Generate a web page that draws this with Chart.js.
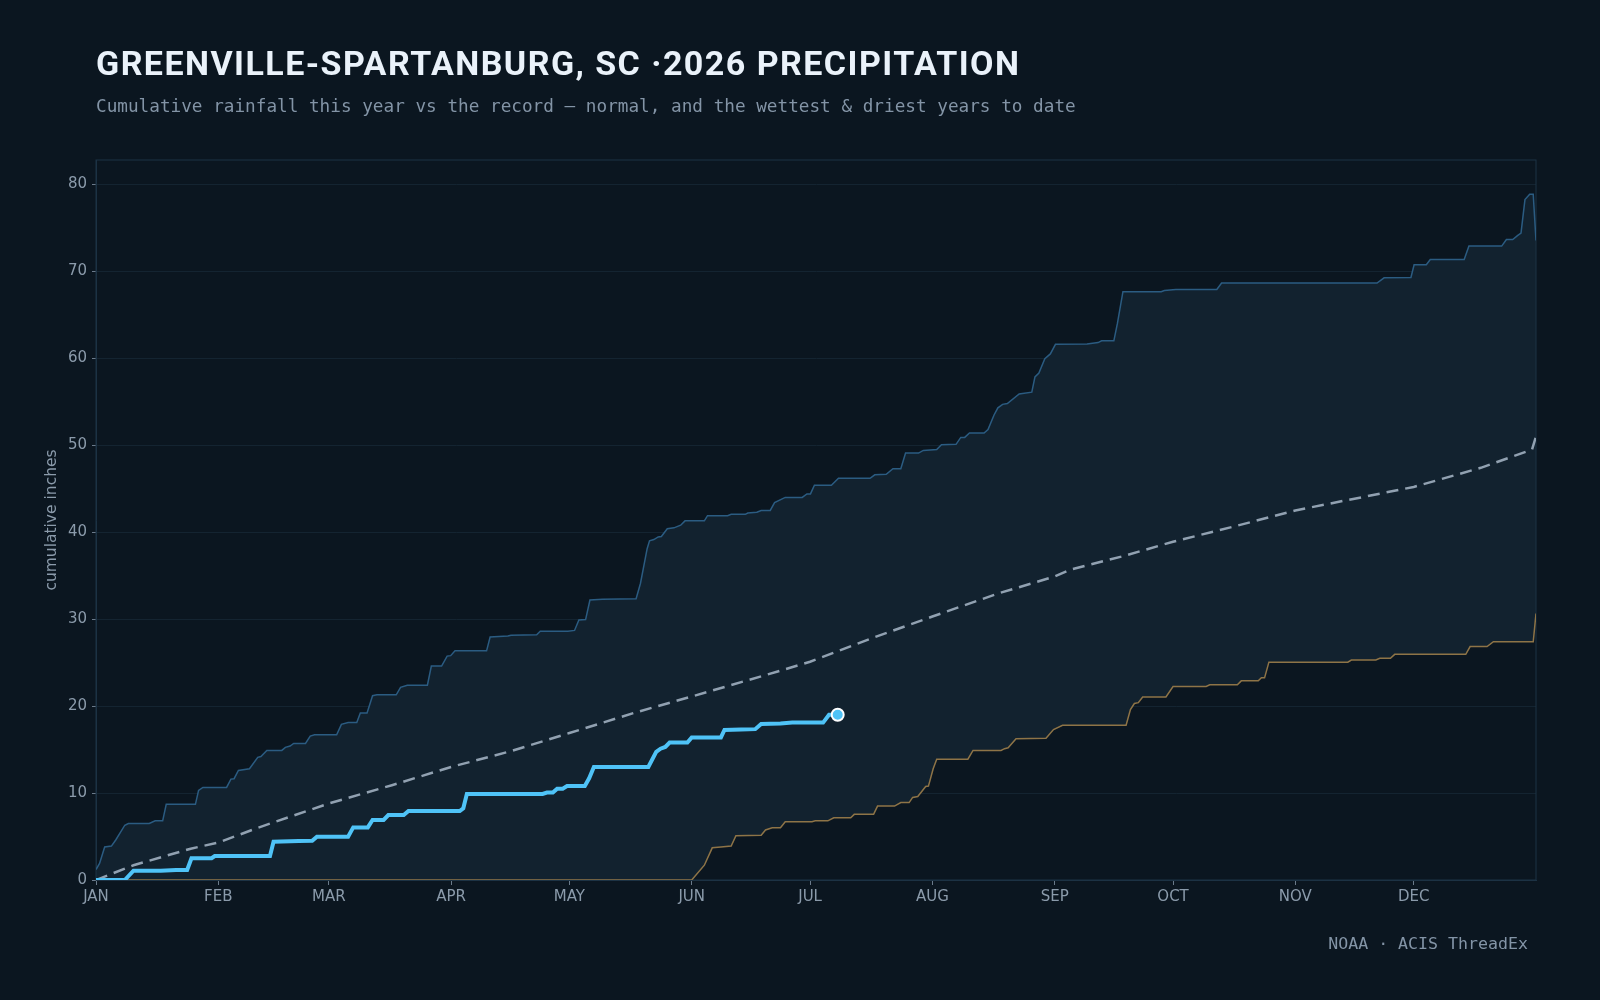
<!DOCTYPE html>
<html lang="en">
<head>
<meta charset="UTF-8">
<title>Greenville-Spartanburg 2026 precipitation</title>
<script src="https://cdn.jsdelivr.net/npm/chart.js"></script>
<style>
  html, body { margin: 0; padding: 0; background: #0b1620; }
  body { width: 1600px; height: 1000px; position: relative; overflow: hidden; }
  #chart { position: absolute; left: 0; top: 0; }
  h1 { position: absolute; left: 96px; top: 46px; margin: 0; font: 700 34px/34px Roboto, sans-serif; letter-spacing: 1.45px; color: #eaf2fa; white-space: nowrap; }
  .sub { position: absolute; left: 96px; top: 97px; font: 17.7px/18px "DejaVu Sans Mono", monospace; color: #8394a6; white-space: nowrap; }
  .src { position: absolute; right: 72px; top: 935px; font: 16.6px/18px "DejaVu Sans Mono", monospace; color: #8394a6; white-space: nowrap; }
</style>
</head>
<body>
  <canvas id="chart" width="1600" height="1000"></canvas>
  <h1>GREENVILLE-SPARTANBURG, SC ·2026 PRECIPITATION</h1>
  <div class="sub">Cumulative rainfall this year vs the record — normal, and the wettest &amp; driest years to date</div>
  <div class="src">NOAA · ACIS ThreadEx</div>

  <script>
    // x = day of year (0 = Jan 1), y = cumulative inches
    const monthDays = [0, 31, 59, 90, 120, 151, 181, 212, 243, 273, 304, 334];
    const monthLabels = ["JAN", "FEB", "MAR", "APR", "MAY", "JUN", "JUL", "AUG", "SEP", "OCT", "NOV", "DEC"];
    const yTicks = [0, 10, 20, 30, 40, 50, 60, 70, 80];

    // this year (2026), to date
    const curDays = [0, 7.3, 9.5, 16.4, 20.3, 23.1, 24.2, 29.3, 30.1, 44.1, 45, 51.4, 54.8, 56, 63.9, 65.2, 68.9, 70.1, 72.9, 74.1,
      78, 79.2, 92.2, 93.1, 94, 113.2, 114.3, 115.8, 116.9, 118.3, 119.4, 123.9, 125, 126.2, 140, 142, 143.1, 144.3, 145.4, 149.9,
      151, 158.4, 159.3, 163.5, 167.1, 168.6, 173.5, 176.5, 184.3, 185.8, 188];
    const curVals = [0, 0, 1.07, 1.07, 1.15, 1.15, 2.5, 2.5, 2.75, 2.75, 4.4, 4.48, 4.5, 4.98, 4.98, 6.05, 6.05, 6.9, 6.9, 7.47,
      7.47, 7.93, 7.93, 8.25, 9.9, 9.9, 10.05, 10.05, 10.5, 10.5, 10.8, 10.8, 11.7, 13.0, 13.0, 14.75, 15.1, 15.3, 15.8, 15.8,
      16.4, 16.4, 17.25, 17.3, 17.35, 17.95, 18.0, 18.1, 18.1, 19.0, 19.0];

    // normal
    const normDays = [0, 9.5, 24, 31, 41, 59, 75, 90, 105, 120, 137, 151, 173, 181, 196, 212, 229, 243, 247, 260, 273, 288, 304, 334, 351, 364, 365];
    const normVals = [0, 1.7, 3.6, 4.3, 6.0, 8.8, 10.9, 13.0, 14.8, 16.9, 19.3, 21.1, 24.0, 25.1, 27.7, 30.3, 33.0, 34.9, 35.7, 37.2, 38.9, 40.6, 42.5, 45.2, 47.4, 49.5, 51.0];

    // wettest year to date
    const wetDays = [0, 0.9, 2.2, 3.9, 5, 7.3, 8.2, 13.5, 15, 16.9, 17.8, 25.2, 26, 27.1, 33.1, 34.2, 35, 36.1, 38.9, 41,
      41.8, 43.3, 47.1, 48, 49.2, 50.1, 53.1, 54.3, 55.4, 61, 62.2, 63.9, 66.1, 67, 68.7, 70.1, 71.2, 76.1, 77.2, 78.9,
      84, 85, 87.6, 89, 89.9, 91, 99, 99.9, 104.4, 105.2, 111.7, 112.6, 119.6, 121.3, 122.4, 124.1, 125.2, 128.4, 136.9, 138,
      139.7, 140.3, 141.4, 142.5, 143.3, 144.8, 146.5, 148.2, 149.3, 154.2, 155, 160.1, 161, 164.6, 165.2, 167.5, 168.6, 170.9, 172, 174.7,
      179, 180.2, 181.1, 182.1, 186.4, 188.2, 196.2, 197.4, 200.3, 202, 204, 205.2, 208.5, 209.7, 213.1, 214.3, 218, 219.2, 220.2, 221.4,
      225.1, 226.1, 227.6, 228.6, 229.8, 231, 234, 237.2, 238, 239, 240.5, 241.9, 243.2, 251.2, 254, 254.9, 258, 258.9, 260.3, 270,
      270.8, 273.7, 284.1, 285.3, 324.7, 326.5, 333.3, 334.1, 337.2, 338.2, 346.8, 348, 356.3, 357.5, 359.1, 360.3, 361.2, 362.2, 363.4, 364.3, 365];
    const wetVals = [1.2, 1.9, 3.8, 3.9, 4.6, 6.3, 6.5, 6.5, 6.8, 6.8, 8.7, 8.7, 10.3, 10.65, 10.65, 11.6, 11.65, 12.6, 12.8, 14.1,
      14.2, 14.9, 14.9, 15.25, 15.4, 15.7, 15.7, 16.55, 16.7, 16.7, 17.9, 18.1, 18.1, 19.2, 19.2, 21.2, 21.3, 21.3, 22.15, 22.4,
      22.4, 24.6, 24.6, 25.75, 25.8, 26.35, 26.35, 27.95, 28.05, 28.15, 28.2, 28.6, 28.6, 28.7, 29.9, 29.95, 32.2, 32.3, 32.35, 34.1,
      38.1, 39.0, 39.15, 39.45, 39.5, 40.4, 40.5, 40.8, 41.3, 41.3, 41.9, 41.9, 42.05, 42.05, 42.2, 42.3, 42.5, 42.5, 43.4, 44.0,
      44.0, 44.4, 44.4, 45.4, 45.4, 46.2, 46.2, 46.6, 46.65, 47.3, 47.3, 49.1, 49.1, 49.4, 49.5, 50.05, 50.1, 50.9, 50.9, 51.4,
      51.4, 51.8, 53.45, 54.3, 54.7, 54.8, 55.9, 56.1, 57.85, 58.3, 59.95, 60.5, 61.6, 61.65, 61.8, 62.0, 62.0, 64.0, 67.65, 67.65,
      67.8, 67.9, 67.9, 68.65, 68.65, 69.25, 69.3, 70.75, 70.75, 71.35, 71.35, 72.9, 72.9, 73.65, 73.65, 74.1, 74.4, 78.25, 78.85, 78.85, 73.55];

    // driest year to date
    const dryDays = [0, 151, 154.2, 156.2, 158.4, 161, 162.2, 168.6, 169.7, 171.4, 173.5, 174.7, 181.5, 182.3, 185.5, 187, 191.3, 192.2, 197.1, 198.1,
      202.4, 204, 206.1, 207, 208.3, 210.3, 211, 212.2, 213.1, 221, 222.3, 229.4, 230.3, 231.2, 233.2, 240.8, 242.7, 245, 261.1, 262.2,
      263.2, 264.2, 265.3, 271.2, 273, 281.4, 282.3, 289.3, 290.3, 294.6, 295.4, 296.2, 297.3, 317.3, 318.2, 324.4, 325.4, 328.1, 329.2, 347.2,
      348.3, 352.6, 354.2, 364.3, 365];
    const dryVals = [0, 0, 1.7, 3.7, 3.8, 3.9, 5.1, 5.15, 5.75, 6.0, 6.0, 6.7, 6.7, 6.8, 6.8, 7.15, 7.15, 7.55, 7.55, 8.5,
      8.5, 8.9, 8.9, 9.5, 9.6, 10.75, 10.8, 12.8, 13.9, 13.9, 14.9, 14.9, 15.1, 15.2, 16.25, 16.3, 17.3, 17.8, 17.8, 19.6,
      20.3, 20.4, 21.05, 21.05, 22.25, 22.25, 22.45, 22.45, 22.9, 22.9, 23.25, 23.25, 25.05, 25.05, 25.3, 25.3, 25.5, 25.5, 25.95, 25.95,
      26.85, 26.85, 27.4, 27.4, 30.65];

    const pts = (days, vals) => days.map((d, i) => ({ x: d, y: vals[i] }));

    const tickColor = "#8b9bab";
    const lineColor = "#1d3345";

    // thin frame round the plot area (top and right sides too)
    const frame = {
      id: "frame",
      beforeDatasetsDraw(chart) {
        const { ctx, chartArea: a } = chart;
        ctx.save();
        ctx.strokeStyle = lineColor;
        ctx.lineWidth = 1;
        ctx.strokeRect(a.left, a.top, a.right - a.left, a.bottom - a.top);
        ctx.restore();
      }
    };

    new Chart(document.getElementById("chart"), {
      type: "line",
      data: {
        datasets: [
          {
            label: "2026",
            data: pts(curDays, curVals),
            borderColor: "#4fc3f7",
            borderWidth: 4,
            pointRadius: c => c.dataIndex === curDays.length - 1 ? 6 : 0,
            pointBackgroundColor: "#4fc3f7",
            pointBorderColor: "#ffffff",
            pointBorderWidth: 2,
            fill: false
          },
          {
            label: "Normal",
            data: pts(normDays, normVals),
            borderColor: "#91a1b1",
            borderWidth: 2.5,
            borderDash: [12, 7],
            pointRadius: 0,
            fill: false
          },
          {
            label: "Wettest",
            data: pts(wetDays, wetVals),
            borderColor: "#2b5c82",
            borderWidth: 1.5,
            pointRadius: 0,
            fill: "+1",
            backgroundColor: "#12222f"
          },
          {
            label: "Driest",
            data: pts(dryDays, dryVals),
            borderColor: "#8e7447",
            borderWidth: 1.5,
            pointRadius: 0,
            fill: false
          }
        ]
      },
      options: {
        responsive: false,
        animation: false,
        devicePixelRatio: 1,
        layout: { padding: { top: 160, right: 64, bottom: 80, left: 0 } },
        elements: { line: { tension: 0 } },
        plugins: {
          legend: { display: false },
          tooltip: { enabled: false },
          filler: { drawTime: "beforeDatasetsDraw" }
        },
        scales: {
          x: {
            type: "linear",
            min: 0,
            max: 365,
            afterFit: s => { s.height = 40; },
            afterBuildTicks: s => { s.ticks = monthDays.map(v => ({ value: v })); },
            ticks: {
              callback: v => monthLabels[monthDays.indexOf(v)],
              color: tickColor,
              font: { family: "DejaVu Sans", size: 15 },
              padding: 3,
              maxRotation: 0,
              autoSkip: false
            },
            grid: { drawOnChartArea: false, tickLength: 5, color: "#6b7b8b" },
            border: { color: lineColor }
          },
          y: {
            min: 0,
            max: 82.8,
            afterFit: s => { s.width = 96; },
            afterBuildTicks: s => { s.ticks = yTicks.map(v => ({ value: v })); },
            ticks: {
              color: tickColor,
              font: { family: "DejaVu Sans", size: 15 },
              padding: 5
            },
            grid: { color: "#142431", tickColor: "#6b7b8b", tickLength: 4 },
            border: { color: lineColor },
            title: {
              display: true,
              text: "cumulative inches",
              color: tickColor,
              font: { family: "DejaVu Sans", size: 15.5 },
              padding: { top: 43, bottom: 0 }
            }
          }
        }
      },
      plugins: [frame]
    });
  </script>
</body>
</html>
